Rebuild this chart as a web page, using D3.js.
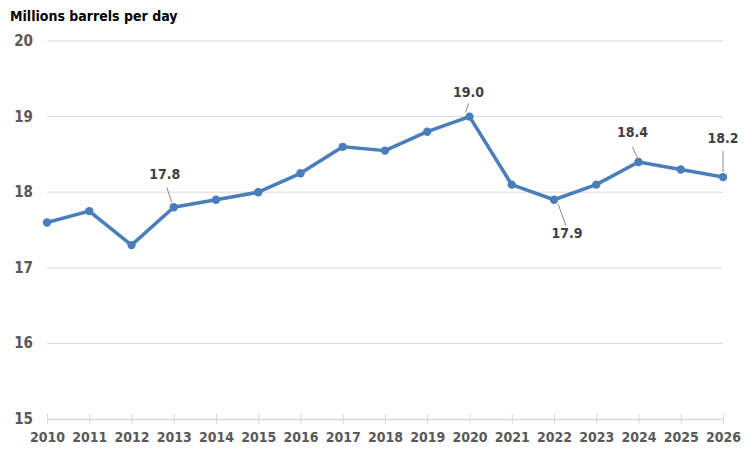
<!DOCTYPE html>
<html>
<head>
<meta charset="utf-8">
<script src="https://cdn.jsdelivr.net/npm/d3@7"></script>
<style>
  body { margin: 0; background: #fff; }
  svg text { font-family: "Liberation Sans Narrow", "DejaVu Sans Condensed", "Open Sans", sans-serif; }
</style>
</head>
<body>
<div id="chart"></div>
<script>
var years = [2010, 2011, 2012, 2013, 2014, 2015, 2016, 2017, 2018, 2019, 2020, 2021, 2022, 2023, 2024, 2025, 2026];
var values = [17.6, 17.75, 17.3, 17.8, 17.9, 18.0, 18.25, 18.6, 18.55, 18.8, 19.0, 18.1, 17.9, 18.1, 18.4, 18.3, 18.2];
var yTicks = [15, 16, 17, 18, 19, 20];
var labelYears = [2013, 2020, 2022, 2024, 2026];
var labelTexts = ["17.8", "19.0", "17.9", "18.4", "18.2"];

var width = 749,
    height = 458,
    margin = {top: 41, right: 26, bottom: 39, left: 47};

var blue = "#4a7ebb",
    _grey = "#595959";

// where each callout sits relative to its point: label offset, leader start, leader end
var callout = {
    2013: {dx: -9, dy: -28, x1: -7, y1: -20, x2: -2, y2: -5},
    2020: {dx: -1, dy: -20, x1: -1, y1: -13, x2: -4, y2: -4},
    2022: {dx: 13, dy: 38, x1: 12, y1: 26, x2: 4, y2: 4},
    2024: {dx: -6, dy: -25, x1: -6, y1: -15, x2: -1, y2: -4},
    2026: {dx: 0, dy: -34, x1: 0, y1: -26, x2: 0, y2: -5}
};

var svg = d3.select("#chart")
    .append("svg")
    .attr("width", width)
    .attr("height", height);

var x = d3.scalePoint()
    .domain(years)
    .range([margin.left, width - margin.right]);

var y = d3.scaleLinear()
    .domain([15, 20])
    .range([height - margin.bottom, margin.top]);

// gridlines
svg.selectAll(".grid")
    .data(yTicks.filter(function(d) { return d > 15; }))
    .enter()
    .append("line")
    .attr("class", "grid")
    .attr("x1", margin.left)
    .attr("x2", width - margin.right)
    .attr("y1", function(d) { return y(d); })
    .attr("y2", function(d) { return y(d); })
    .style("stroke", "#d9d9d9")
    .style("stroke-width", 1);

// y labels
svg.selectAll(".ylab")
    .data(yTicks)
    .enter()
    .append("text")
    .attr("class", "ylab")
    .attr("x", 33)
    .attr("y", function(d) { return y(d) + 5; })
    .attr("text-anchor", "end")
    .style("font-size", "15px")
    .style("font-weight", "bold")
    .style("fill", _grey)
    .text(function(d) { return d; });

// x axis
var xAxis = svg.append("g")
    .attr("transform", `translate(0,${y(15)})`)
    .call(d3.axisBottom(x).tickSizeInner(5).tickSizeOuter(0).tickPadding(8));

xAxis.select(".domain").style("stroke", "#d9d9d9").style("stroke-width", 1.5);
xAxis.selectAll(".tick line")
    .attr("y1", -5)
    .attr("y2", 5)
    .style("stroke", "#d9d9d9");
xAxis.selectAll(".tick text")
    .style("font-family", "\"Liberation Sans Narrow\", \"DejaVu Sans Condensed\", sans-serif")
    .style("font-size", "14px")
    .style("font-weight", "bold")
    .style("fill", _grey);

// title
svg.append("text")
    .attr("x", 10)
    .attr("y", 21)
    .style("font-size", "14px")
    .style("font-weight", "bold")
    .style("fill", "#000")
    .text("Millions barrels per day");

// series line
var line = d3.line()
    .x(function(d, i) { return x(years[i]); })
    .y(function(d) { return y(d); });

svg.append("path")
    .datum(values)
    .attr("d", line)
    .style("fill", "none")
    .style("stroke", blue)
    .style("stroke-width", 3.5)
    .style("stroke-linejoin", "round");

svg.selectAll(".dot")
    .data(values)
    .enter()
    .append("circle")
    .attr("class", "dot")
    .attr("cx", function(d, i) { return x(years[i]); })
    .attr("cy", function(d) { return y(d); })
    .attr("r", 4.2)
    .style("fill", blue);

// callouts
labelYears.forEach(function(yr, i) {
    var px = x(yr),
        py = y(values[years.indexOf(yr)]),
        c = callout[yr];
    svg.append("line")
        .attr("x1", px + c.x1)
        .attr("y1", py + c.y1)
        .attr("x2", px + c.x2)
        .attr("y2", py + c.y2)
        .style("stroke", "#8c8c8c")
        .style("stroke-width", 1);
    svg.append("text")
        .attr("x", px + c.dx)
        .attr("y", py + c.dy)
        .attr("text-anchor", "middle")
        .style("font-size", "14px")
        .style("font-weight", "bold")
        .style("fill", "#404040")
        .text(labelTexts[i]);
});
</script>
</body>
</html>
